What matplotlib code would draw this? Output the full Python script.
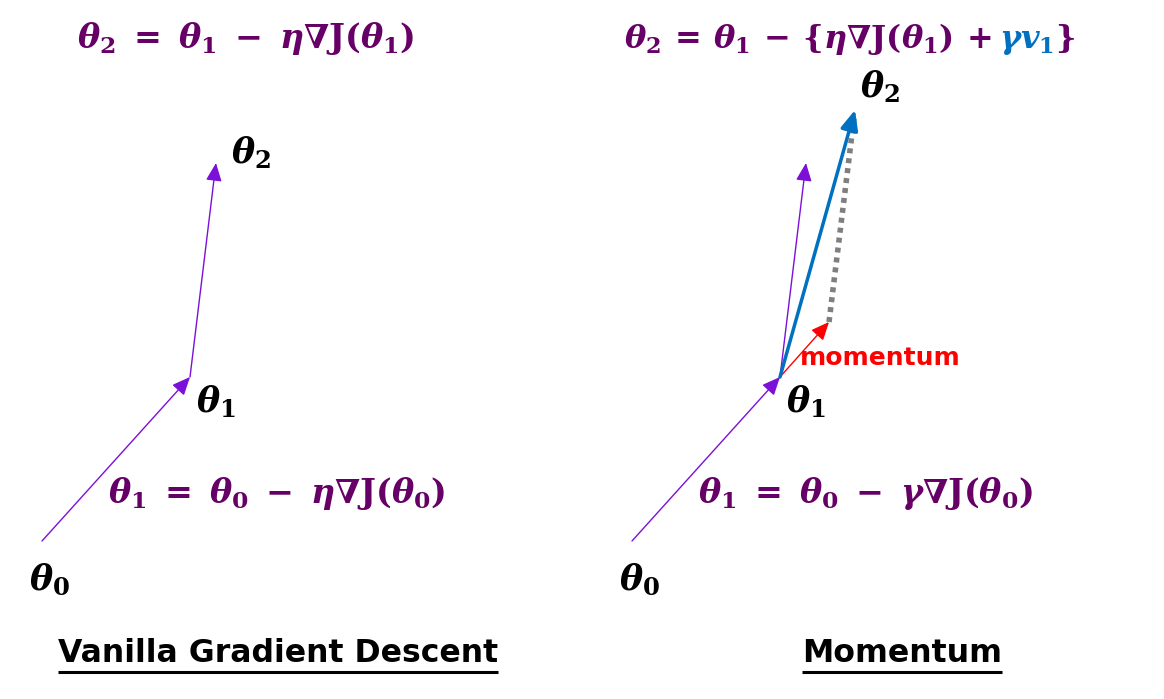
import matplotlib
matplotlib.use('Agg')
import matplotlib.pyplot as plt

plt.rcParams['mathtext.fontset'] = 'custom'
plt.rcParams['mathtext.rm'] = 'DejaVu Serif:bold'
plt.rcParams['mathtext.it'] = 'DejaVu Serif:italic:bold'
plt.rcParams['mathtext.bf'] = 'DejaVu Serif:bold'

# ---- diagram points (pixel space of the reference) ----
vanilla_theta0 = [42, 541]
vanilla_theta1 = [190, 377]
vanilla_theta2 = [216, 163]

mom_theta0 = [632, 541]
mom_theta1 = [780, 377]
mom_grad_tip = [806, 163]
mom_momentum_tip = [829, 322]
mom_theta2 = [855, 110]

PURPLE_TXT = '#660066'
PURPLE_ARR = '#7B10D8'
BLUE = '#0070C0'
RED = '#FF0000'
GRAY = '#7F7F7F'

fig = plt.figure(figsize=(11.64, 6.99), dpi=100)
ax = fig.add_axes([0, 0, 1, 1])
ax.set_xlim(0, 1164)
ax.set_ylim(699, 0)
ax.axis('off')


def arrow(p0, p1, color, lw, ms):
    ax.annotate('', xy=p1, xytext=p0,
                arrowprops=dict(arrowstyle='-|>,head_length=0.5,head_width=0.22', color=color, lw=lw,
                                mutation_scale=ms, shrinkA=0, shrinkB=0))


# Vanilla panel
arrow(vanilla_theta0, vanilla_theta1, PURPLE_ARR, 1.0, 22)
arrow(vanilla_theta1, vanilla_theta2, PURPLE_ARR, 1.0, 22)

# Momentum panel
ax.plot([mom_momentum_tip[0], mom_theta2[0] - 1], [mom_momentum_tip[1], mom_theta2[1] + 8],
        color=GRAY, lw=4, linestyle=(0, (0.9, 0.9)), solid_capstyle='butt')
arrow(mom_theta0, mom_theta1, PURPLE_ARR, 1.0, 22)
arrow(mom_theta1, mom_grad_tip, PURPLE_ARR, 1.0, 22)
arrow(mom_theta1, mom_momentum_tip, RED, 1.0, 22)
arrow(mom_theta1, mom_theta2, BLUE, 2.5, 24)

EQ_FS = 24
LBL_FS = 25

# labels
ax.text(251, 153, r'$\theta_2$', fontsize=LBL_FS, ha='center', va='center', color='black')
ax.text(216, 402, r'$\theta_1$', fontsize=LBL_FS, ha='center', va='center', color='black')
ax.text(49, 580, r'$\theta_0$', fontsize=LBL_FS, ha='center', va='center', color='black')
ax.text(880, 87, r'$\theta_2$', fontsize=LBL_FS, ha='center', va='center', color='black')
ax.text(806, 402, r'$\theta_1$', fontsize=LBL_FS, ha='center', va='center', color='black')
ax.text(639, 580, r'$\theta_0$', fontsize=LBL_FS, ha='center', va='center', color='black')

# equations
ax.text(246, 48, r'$\theta_2 \;=\; \theta_1 \;-\; \eta\nabla\mathrm{J}(\theta_1)$', fontsize=EQ_FS,
        ha='center', va='baseline', color=PURPLE_TXT)
ax.text(277, 503, r'$\theta_1 \;=\; \theta_0 \;-\; \eta\nabla\mathrm{J}(\theta_0)$', fontsize=EQ_FS,
        ha='center', va='baseline', color=PURPLE_TXT)
ax.text(866, 503, r'$\theta_1 \;=\; \theta_0 \;-\; \gamma\nabla\mathrm{J}(\theta_0)$', fontsize=EQ_FS,
        ha='center', va='baseline', color=PURPLE_TXT)

fig.canvas.draw()
renderer = fig.canvas.get_renderer()
inv = ax.transData.inverted()

parts = [(r'$\theta_2 \,=\, \theta_1 \,-\, \{\eta\nabla\mathrm{J}(\theta_1) \,+$', PURPLE_TXT, 7),
         (r'$\gamma v_1$', BLUE, 1),
         (r'$\}$', PURPLE_TXT, 0)]
x = 624
for s, c, gap in parts:
    t = ax.text(x, 48, s, fontsize=23, ha='left', va='baseline', color=c)
    bb = t.get_window_extent(renderer)
    x = inv.transform((bb.x1, bb.y0))[0] + gap

ax.text(800, 358, 'momentum', fontsize=18, fontweight='bold', color=RED,
        ha='left', va='center', family='DejaVu Sans')


def underlined(xc, yc, s):
    t = ax.text(xc, yc, s, fontsize=22.7, fontweight='bold', color='black',
                ha='center', va='center', family='DejaVu Sans')
    bb = t.get_window_extent(renderer)
    (x0, y0), (x1, y1) = inv.transform([(bb.x0, bb.y0), (bb.x1, bb.y1)])
    ax.plot([x0, x1], [y0 + 3, y0 + 3], color='black', lw=2.2, solid_capstyle='butt')


underlined(278, 653, 'Vanilla Gradient Descent')
underlined(902, 653, 'Momentum')

fig.savefig('out.png', dpi=100)
